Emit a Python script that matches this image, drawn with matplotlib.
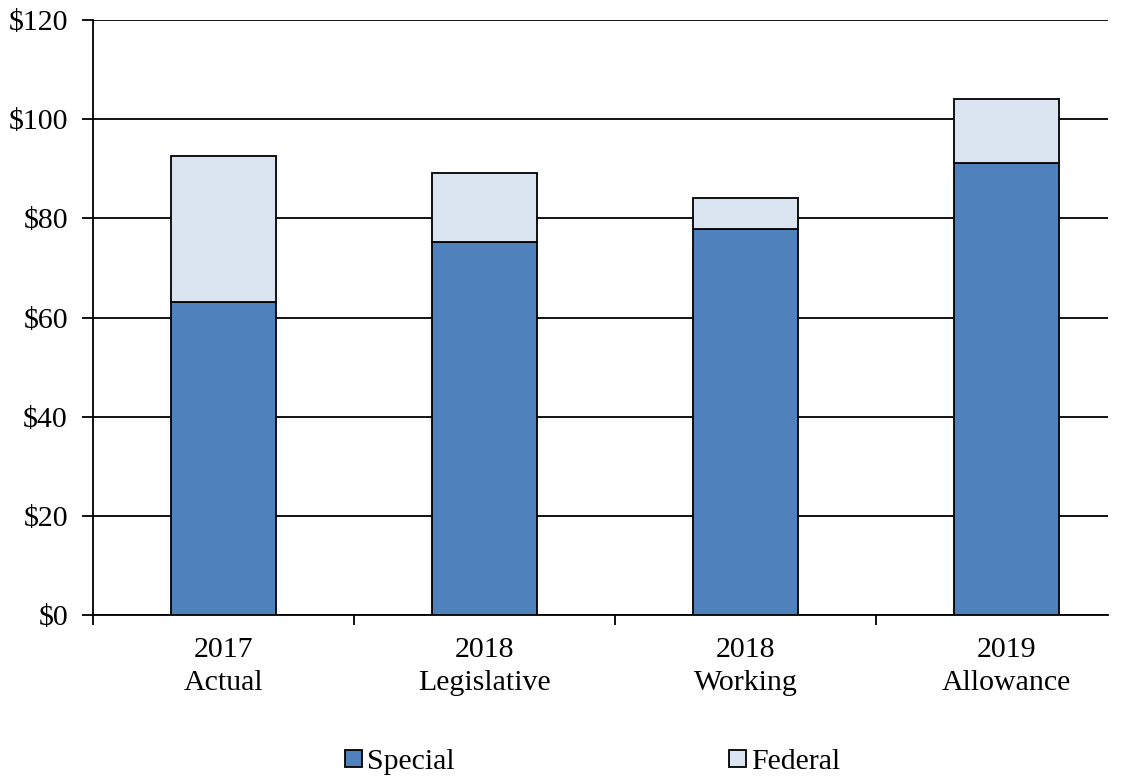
import matplotlib
matplotlib.use("Agg")
import matplotlib.pyplot as plt
from matplotlib.patches import Patch
import numpy as np

categories = ["2017\nActual", "2018\nLegislative", "2018\nWorking", "2019\nAllowance"]
special = [63.2, 75.2, 77.9, 91.1]
federal = [29.4, 13.9, 6.2, 12.9]
yticks = [0, 20, 40, 60, 80, 100, 120]
ytick_labels = ["$0", "$20", "$40", "$60", "$80", "$100", "$120"]

plt.rcParams['font.family'] = ['Liberation Serif', 'DejaVu Serif']
FS = 21.5

fig = plt.figure(figsize=(11.30, 7.77), dpi=100)
ax = fig.add_axes([93/1130, 1 - 615/777, (1108-93)/1130, (615-20)/777])

x = np.arange(len(categories))
c_special = "#4F81BD"
c_federal = "#DBE5F1"
ax.bar(x, special, width=0.402, color=c_special, edgecolor="black", linewidth=1.3, zorder=3)
ax.bar(x, federal, width=0.402, bottom=special, color=c_federal, edgecolor="black", linewidth=1.3, zorder=3)

ax.set_xlim(-0.5, -0.5 + (1108-93)/261)
ax.set_ylim(0, 120)
ax.set_yticks(yticks)
ax.set_yticklabels(ytick_labels, fontsize=FS)
ax.yaxis.grid(True, color="black", linewidth=1.3)
ax.set_axisbelow(True)

ax.set_xticks(x)
ax.set_xticklabels(categories, fontsize=FS, linespacing=1.35)
ax.tick_params(axis='x', length=0, pad=16)
ax.set_xticks(np.arange(len(categories)) - 0.5, minor=True)
ax.tick_params(axis='x', which='minor', length=7, width=1.3, direction='out')
ax.tick_params(axis='y', length=8, width=1.3, direction='out', pad=10)

for s in ["top", "right"]:
    ax.spines[s].set_visible(False)
ax.spines["left"].set_linewidth(1.3)
ax.spines["bottom"].set_linewidth(1.3)

labels = ["Special", "Federal"]
colors = [c_special, c_federal]
xs = [345, 729]
for lab, col, xp in zip(labels, colors, xs):
    h = Patch(facecolor=col, edgecolor="black", linewidth=1.3, label=lab)
    fig.legend(handles=[h], loc="center left", bbox_to_anchor=(xp/1130, 1 - 762/777),
               frameon=False, fontsize=FS, handlelength=0.58, handleheight=0.54,
               handletextpad=0.15, borderpad=0, borderaxespad=0)

fig.savefig("out.png", dpi=100)
